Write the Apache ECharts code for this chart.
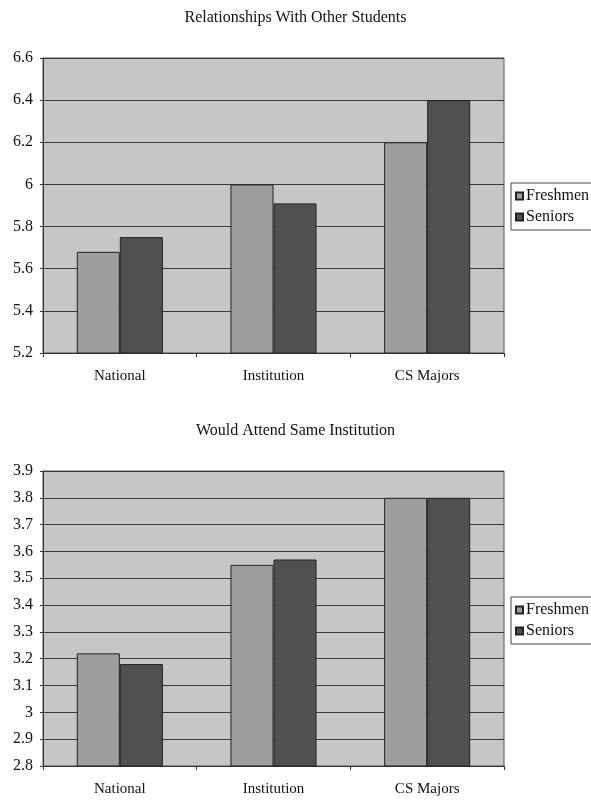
<!DOCTYPE html>
<html>
<head>
<meta charset="utf-8">
<script src="https://cdn.jsdelivr.net/npm/echarts@6/dist/echarts.min.js"></script>
<style>
html,body{margin:0;padding:0;background:#fff;}
#chart{width:591px;height:800px;}
</style>
</head>
<body>
<div id="chart"></div>
<script>
const categories = ['National', 'Institution', 'CS Majors'];
const seriesNames = ['Freshmen', 'Seniors'];
const title1 = 'Relationships With Other Students';
const freshmen1 = [5.68, 6.0, 6.2];
const seniors1 = [5.75, 5.91, 6.4];
const title2 = 'Would Attend Same Institution';
const freshmen2 = [3.22, 3.55, 3.8];
const seniors2 = [3.18, 3.57, 3.8];
const yAxis1 = { min: 5.2, max: 6.6, interval: 0.2 };
const yAxis2 = { min: 2.8, max: 3.9, interval: 0.1 };

const FONT = 'Liberation Serif';
const colF = '#9e9e9e';
const colS = '#505050';

function xAxis(gi) {
  return {
    type: 'category', gridIndex: gi, data: categories,
    axisLine: { lineStyle: { color: '#333', width: 1 } },
    axisTick: { show: true, length: 4, lineStyle: { color: '#333' } },
    axisLabel: { color: '#111', fontFamily: FONT, fontSize: 15, margin: 16 }
  };
}
function yAxis(gi, cfg) {
  return {
    type: 'value', gridIndex: gi, min: cfg.min, max: cfg.max, interval: cfg.interval,
    axisLine: { show: true, lineStyle: { color: '#333', width: 1 } },
    axisTick: { show: true, length: 3, lineStyle: { color: '#333' } },
    axisLabel: { color: '#111', fontFamily: FONT, fontSize: 16, margin: 10,
      formatter: v => String(Math.round(v * 10) / 10) },
    splitLine: { show: true, lineStyle: { color: '#3a3a3a', width: 1 } }
  };
}
function bar(name, data, gi, color) {
  return {
    type: 'bar', name: name, data: data, xAxisIndex: gi, yAxisIndex: gi,
    barGap: '0%', barCategoryGap: '44%',
    itemStyle: { color: color, borderColor: '#222', borderWidth: 1 },
    emphasis: { disabled: true }
  };
}
function legend(top) {
  return {
    orient: 'vertical', left: 511, top: top,
    data: seriesNames, icon: 'rect', itemWidth: 7, itemHeight: 7, itemGap: 5,
    backgroundColor: '#fff', borderColor: '#444', borderWidth: 1,
    padding: [5, 20, 5, 4],
    textStyle: { fontFamily: FONT, fontSize: 16, color: '#111', padding: [0, 0, 0, -2] },
    selectedMode: false
  };
}

const chart = echarts.init(document.getElementById('chart'), null, { renderer: 'canvas' });
chart.setOption({
  animation: false,
  backgroundColor: '#fff',
  title: [
    { text: title1, left: 'center', top: 5, textStyle: { fontFamily: FONT, fontSize: 16, fontWeight: 'normal', color: '#111' } },
    { text: title2, left: 'center', top: 418, textStyle: { fontFamily: FONT, fontSize: 16, fontWeight: 'normal', color: '#111' } }
  ],
  legend: [ legend(183), legend(597) ],
  grid: [
    { left: 43, top: 58, width: 461, height: 295, show: true, backgroundColor: '#c6c6c6', borderColor: '#555', borderWidth: 1 },
    { left: 43, top: 471, width: 461, height: 295, show: true, backgroundColor: '#c6c6c6', borderColor: '#555', borderWidth: 1 }
  ],
  xAxis: [ xAxis(0), xAxis(1) ],
  yAxis: [ yAxis(0, yAxis1), yAxis(1, yAxis2) ],
  series: [
    bar(seriesNames[0], freshmen1, 0, colF),
    bar(seriesNames[1], seniors1, 0, colS),
    bar(seriesNames[0], freshmen2, 1, colF),
    bar(seriesNames[1], seniors2, 1, colS)
  ]
});
</script>
</body>
</html>
